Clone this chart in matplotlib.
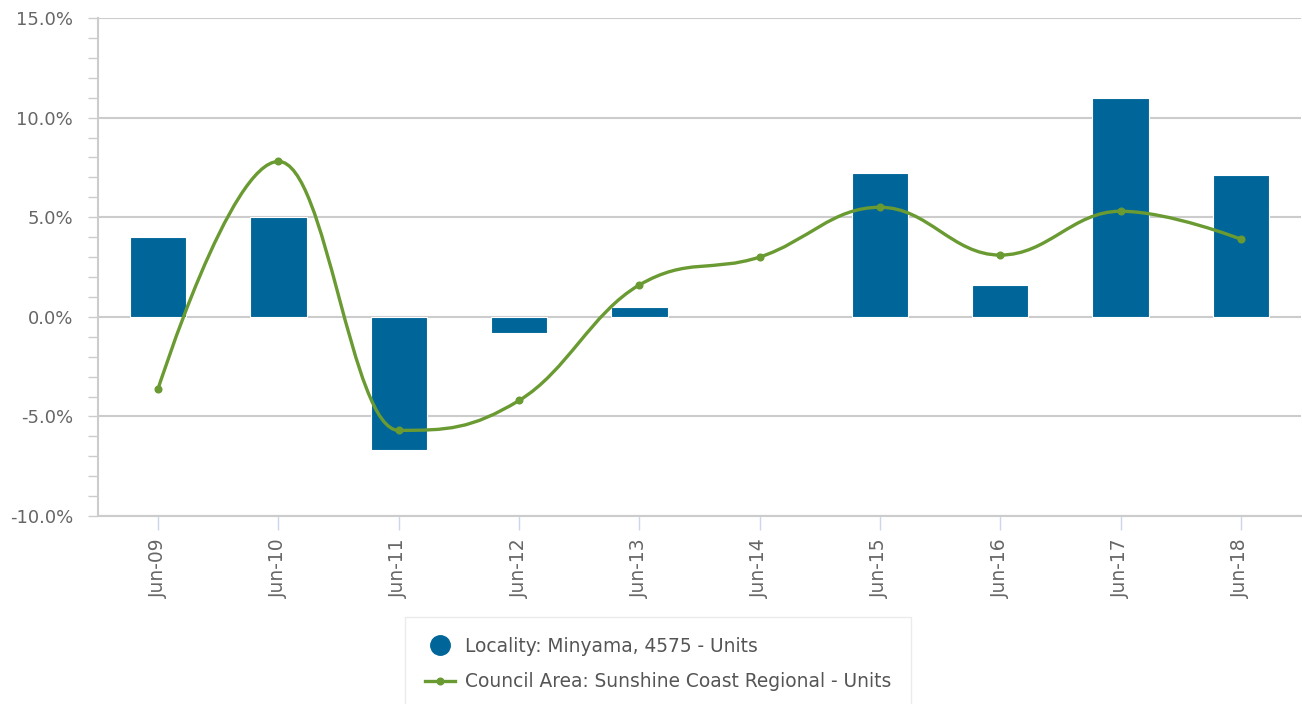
import matplotlib
matplotlib.use("Agg")
import matplotlib.pyplot as plt
from matplotlib.path import Path
from matplotlib.patches import PathPatch
from matplotlib.lines import Line2D
from matplotlib.ticker import MultipleLocator, FuncFormatter
import numpy as np

categories = ["Jun-09", "Jun-10", "Jun-11", "Jun-12", "Jun-13",
              "Jun-14", "Jun-15", "Jun-16", "Jun-17", "Jun-18"]
locality = [4.0, 5.0, -6.7, -0.8, 0.5, 0.0, 7.2, 1.6, 11.0, 7.1]
council = [-3.6, 7.8, -5.7, -4.2, 1.6, 3.0, 5.5, 3.1, 5.3, 3.9]

bar_color = "#006699"
line_color = "#6a9a32"
text_color = "#666666"

plt.rcParams["font.family"] = ["DejaVu Sans"]


def spline_path(xs, ys, smoothing=1.5):
    # highcharts-like spline: cubic bezier with neighbour-based control points
    n = len(xs)
    verts = [(xs[0], ys[0])]
    codes = [Path.MOVETO]
    left = [None] * n
    right = [None] * n
    denom = smoothing + 1
    for i in range(1, n - 1):
        px, py = xs[i], ys[i]
        lx, ly = xs[i - 1], ys[i - 1]
        nx, ny = xs[i + 1], ys[i + 1]
        lcx = (smoothing * px + lx) / denom
        lcy = (smoothing * py + ly) / denom
        rcx = (smoothing * px + nx) / denom
        rcy = (smoothing * py + ny) / denom
        if rcx != lcx:
            corr = (rcy - lcy) * (rcx - px) / (rcx - lcx) + py - rcy
            lcy += corr
            rcy += corr
        if lcy > ly and lcy > py:
            lcy = max(ly, py)
            rcy = 2 * py - lcy
        elif lcy < ly and lcy < py:
            lcy = min(ly, py)
            rcy = 2 * py - lcy
        if rcy > ny and rcy > py:
            rcy = max(ny, py)
            lcy = 2 * py - rcy
        elif rcy < ny and rcy < py:
            rcy = min(ny, py)
            lcy = 2 * py - rcy
        left[i] = (lcx, lcy)
        right[i] = (rcx, rcy)
    for i in range(1, n):
        c1 = right[i - 1] if right[i - 1] else (xs[i - 1], ys[i - 1])
        c2 = left[i] if left[i] else (xs[i], ys[i])
        verts += [c1, c2, (xs[i], ys[i])]
        codes += [Path.CURVE4] * 3
    return Path(verts, codes)


fig = plt.figure(figsize=(13.02, 7.04), dpi=100)
ax = fig.add_axes([0.0753, 0.267, 0.9239, 0.7074])

x = np.arange(len(categories))
edges = ["white" if v != 0 else "none" for v in locality]
ax.bar(x, locality, width=0.47, color=bar_color, edgecolor=edges,
       linewidth=0.8, zorder=3)

path = spline_path(list(x.astype(float)), council)
ax.add_patch(PathPatch(path, facecolor="none", edgecolor=line_color,
                       linewidth=2.4, zorder=4, capstyle="round"))
ax.plot(x, council, "o", color=line_color, markersize=4.8, zorder=5)

ax.set_xlim(-0.5, len(categories) - 0.5)
ax.set_ylim(-10, 15)
ax.yaxis.set_major_locator(MultipleLocator(5))
ax.yaxis.set_minor_locator(MultipleLocator(1))
ax.yaxis.set_major_formatter(FuncFormatter(lambda v, p: f"{v:.1f}%"))
ax.grid(axis="y", which="major", color="#cccccc", linewidth=1.5, zorder=0)

ax.set_xticks(x)
ax.set_xticklabels(categories, rotation=90)
ax.tick_params(axis="x", length=10, width=1, color="#ccd6eb",
               labelcolor=text_color, labelsize=13.5, pad=6)
ax.tick_params(axis="y", which="both", length=7, width=1, color="#cccccc",
               labelcolor=text_color, labelsize=13, pad=11)

for side in ["top", "right"]:
    ax.spines[side].set_visible(False)
ax.spines["left"].set_color("#cccccc")
ax.spines["left"].set_linewidth(1.5)
ax.spines["bottom"].set_color("#cccccc")
ax.spines["bottom"].set_linewidth(1.5)

handles = [
    Line2D([], [], marker="o", linestyle="none", color=bar_color, markersize=14),
    Line2D([], [], marker="o", color=line_color, linewidth=2.4, markersize=4.8),
]
labels = ["Locality: Minyama, 4575 - Units",
          "Council Area: Sunshine Coast Regional - Units"]
leg = fig.legend(handles, labels, loc="upper left",
                 bbox_to_anchor=(405 / 1302, 1 - 617 / 704),
                 borderaxespad=0, frameon=True, fontsize=13.4,
                 labelcolor="#555555", handlelength=1.65, handletextpad=0.55,
                 borderpad=1.05, labelspacing=0.9, fancybox=False)
leg.get_frame().set_edgecolor("#e6e6e6")
leg.get_frame().set_linewidth(1)

fig.savefig("out.png", dpi=100)
